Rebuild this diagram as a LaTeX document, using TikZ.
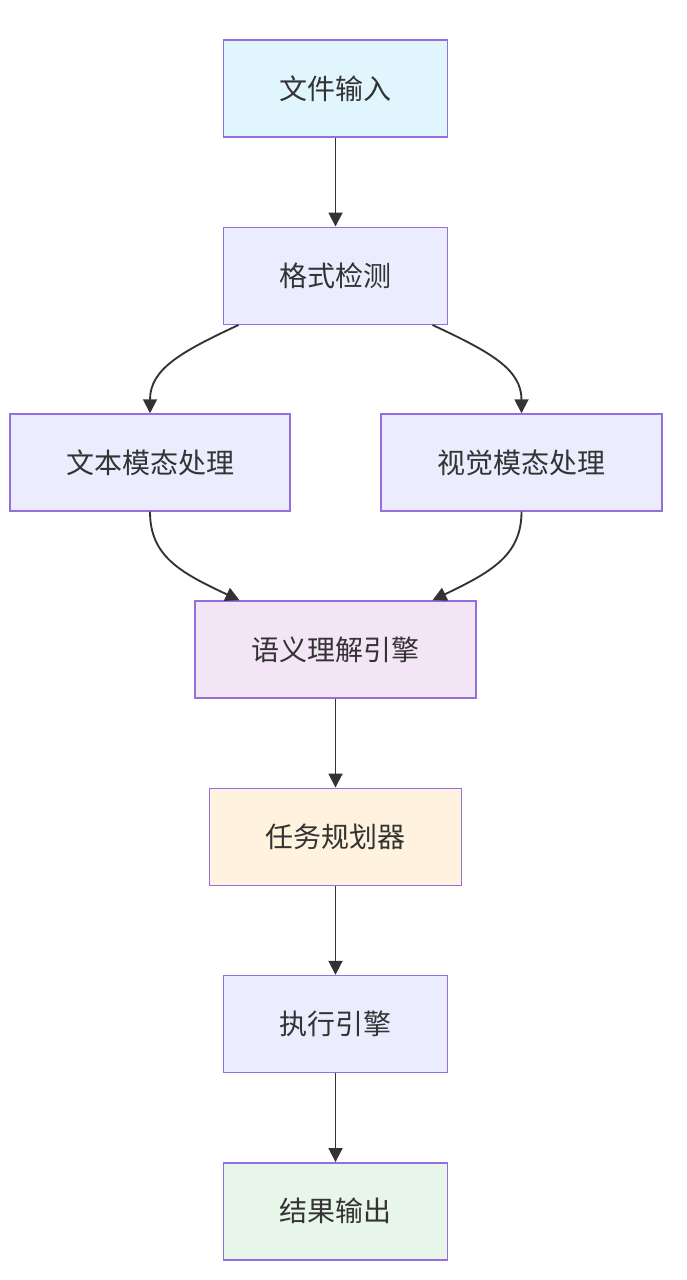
\documentclass[tikz,border=0pt]{standalone}
\usepackage{fontspec}
\setmainfont{Noto Sans CJK SC}
\usetikzlibrary{arrows.meta,positioning,calc}
\definecolor{boxline}{HTML}{9370DB}
\definecolor{boxfill}{HTML}{ECECFF}
\definecolor{inputblue}{HTML}{E1F5FE}
\definecolor{enginepurple}{HTML}{F3E5F5}
\definecolor{planorange}{HTML}{FFF3E0}
\definecolor{outputgreen}{HTML}{E8F5E9}
\definecolor{textgray}{HTML}{333333}
\definecolor{linegray}{HTML}{333333}

\begin{document}
\begin{tikzpicture}[x=0.75pt,y=-0.75pt,node distance=66.6pt,
    flowbox/.style={draw=boxline, line width=1.1pt, fill=boxfill, rectangle,
        minimum width=168pt, minimum height=72.75pt, text=textgray,
        font=\fontsize{21pt}{25pt}\selectfont},
    flowarrow/.style={-{Triangle[length=10.5pt,width=10.5pt]}, line width=1.4pt, draw=linegray}]
            \useasboundingbox (0,0) rectangle (686,1280);

            % Input
            \node[flowbox, fill=inputblue] (input) at (335.5,88.5) {文件输入};

            % Format detection
            \node[flowbox, below=of input] (detect) {格式检测};

            % Modal branches
            \node[flowbox, minimum width=210pt] (textproc) at (150,462.5) {文本模态处理};
            \node[flowbox, minimum width=210.75pt] (visproc) at (521.5,462.5) {视觉模态处理};

            % Semantic engine
            \node[flowbox, fill=enginepurple, minimum width=210.75pt] (semantic) at (335.5,649.5) {语义理解引擎};

            % Planner, executor, output
            \node[flowbox, fill=planorange, minimum width=189pt, below=of semantic] (planner) {任务规划器};
            \node[flowbox, below=of planner] (executor) {执行引擎};
            \node[flowbox, fill=outputgreen, below=of executor] (output) {结果输出};

            % Arrows
            \draw[flowarrow] (input) -- (detect);
            \draw[flowarrow] ($(detect.south)+(-97,0)$) .. controls +(-58,27) and +(0,-44) .. (textproc.north);
            \draw[flowarrow] ($(detect.south)+(97,0)$) .. controls +(58,27) and +(0,-44) .. (visproc.north);
            \draw[flowarrow] (textproc.south) .. controls +(0,44) and +(-60,-28) .. ($(semantic.north)+(-96,0)$);
            \draw[flowarrow] (visproc.south) .. controls +(0,44) and +(58,-28) .. ($(semantic.north)+(97,0)$);
            \draw[flowarrow] (semantic) -- (planner);
            \draw[flowarrow] (planner) -- (executor);
            \draw[flowarrow] (executor) -- (output);
        \end{tikzpicture}
\end{document}
